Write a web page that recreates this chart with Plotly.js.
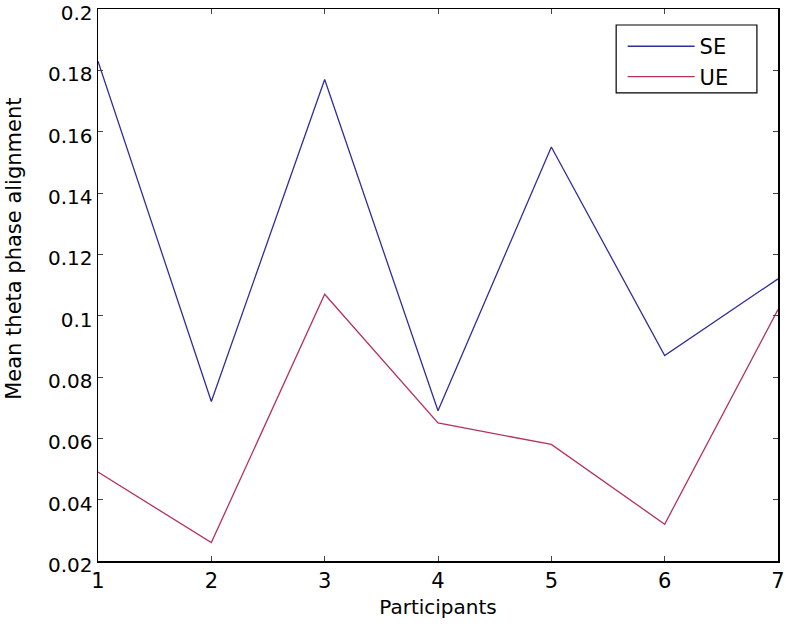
<!DOCTYPE html>
<html><head><meta charset="utf-8">
<script src="https://cdn.plot.ly/plotly-3.0.1.min.js"></script>
<style>html,body{margin:0;padding:0;background:#fff}</style>
</head><body>
<div id="chart" style="width:786px;height:628px"></div>
<script>
const participants = [1, 2, 3, 4, 5, 6, 7];
const seValues = [0.183, 0.072, 0.177, 0.069, 0.155, 0.087, 0.112];
const ueValues = [0.049, 0.026, 0.107, 0.065, 0.058, 0.032, 0.102];
const yTicks = [0.02, 0.04, 0.06, 0.08, 0.1, 0.12, 0.14, 0.16, 0.18, 0.2];
const yTickLabels = ['0.02', '0.04', '0.06', '0.08', '0.1', '0.12', '0.14', '0.16', '0.18', '0.2'];
const xTitle = 'Participants';
const yTitle = 'Mean theta phase alignment';

const font = 'DejaVu Sans, Verdana, sans-serif';
const traces = [
  {x: participants, y: seValues, name: 'SE', mode: 'lines', line: {color: '#2e2e9c', width: 1.3}},
  {x: participants, y: ueValues, name: 'UE', mode: 'lines', line: {color: '#b5325a', width: 1.3}}
];
const layout = {
  width: 786, height: 628,
  margin: {l: 98, r: 8, t: 9, b: 67},
  paper_bgcolor: '#fff', plot_bgcolor: '#fff',
  font: {family: font, size: 20, color: '#000'},
  showlegend: true,
  legend: {x: 0.7715, y: 0.969, xanchor: 'left', yanchor: 'top', borderwidth: 0,
           bgcolor: 'rgba(0,0,0,0)', font: {size: 21, family: font}, itemwidth: 67, tracegroupgap: 0},
  shapes: [{type: 'rect', xref: 'paper', yref: 'paper', x0: 0.762, x1: 0.969, y0: 0.848, y1: 0.971,
            line: {color: '#000', width: 1.2}, fillcolor: 'rgba(0,0,0,0)', layer: 'above'}],
  annotations: [{text: yTitle, xref: 'paper', yref: 'paper', x: -0.124, y: 0.565, xanchor: 'center', yanchor: 'middle',
                 textangle: -90, showarrow: false, font: {size: 21, family: font}}],
  xaxis: {range: [1, 7], tickvals: participants, ticks: 'inside', ticklen: 5, showline: true, mirror: 'ticks',
          linecolor: '#000', linewidth: 1.5, showgrid: false, zeroline: false, ticklabeloverflow: 'allow',
          tickfont: {size: 21}, title: {text: xTitle, font: {size: 20}, standoff: 8}},
  yaxis: {range: [0.02, 0.2], tickvals: yTicks, ticktext: yTickLabels, ticks: 'inside', ticklen: 5, showline: true,
          mirror: 'ticks', linecolor: '#000', linewidth: 1.5, showgrid: false, zeroline: false, ticklabeloverflow: 'allow',
          ticklabelshift: 4, tickfont: {size: 20}}
};
Plotly.newPlot('chart', traces, layout, {displayModeBar: false, staticPlot: true});
</script>
</body></html>
